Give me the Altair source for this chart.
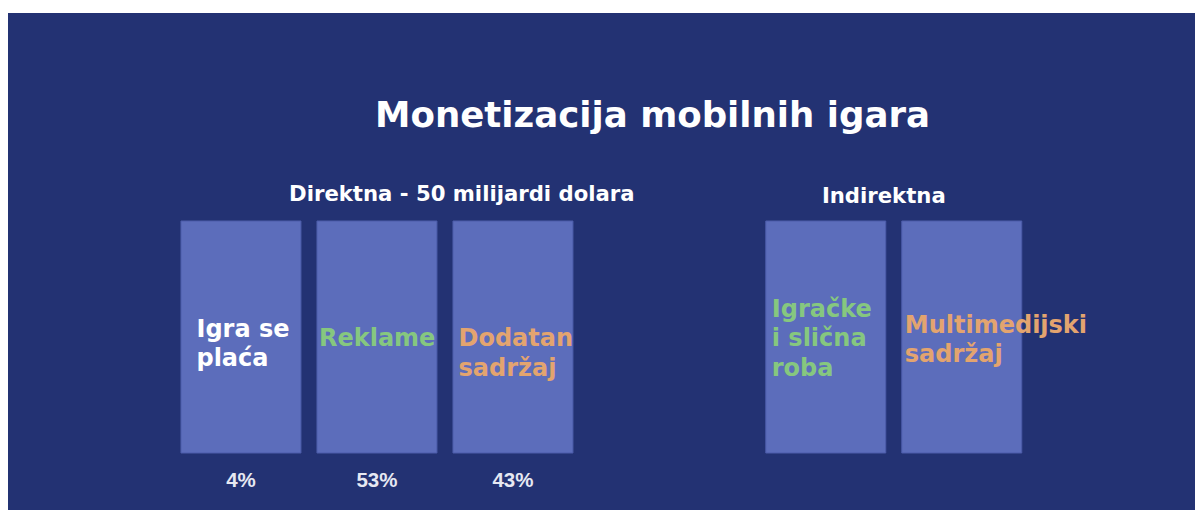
import altair as alt
import pandas as pd

# ---- data ----
categories = ["Igra se plaća", "Reklame", "Dodatan sadržaj",
              "Igračke i slična roba", "Multimedijski sadržaj"]
groups = ["Direktna", "Direktna", "Direktna", "Indirektna", "Indirektna"]
slot_in_group = [0, 1, 2, 0, 1]
label_lines = ["Igra se\nplaća", "Reklame", "Dodatan\nsadržaj",
               "Igračke\ni slična\nroba", "Multimedijski\nsadržaj"]
shares = ["4%", "53%", "43%", "", ""]
label_colors = ["#ffffff", "#86c77f", "#e3a46f", "#86c77f", "#e3a46f"]

title_text = "Monetizacija mobilnih igara"
group_headers = ["Direktna - 50 milijardi dolara", "Indirektna"]

df = pd.DataFrame({
    "category": categories,
    "group": groups,
    "slot": slot_in_group,
    "label": label_lines,
    "share": shares,
    "color": label_colors,
})

# ---- style / layout ----
NAVY = "#233273"
BOX = "#5c6dbb"
BOX_EDGE = "#4c5caa"
STEP_PX = 136.0
W, H = 1187, 497          # plot area (page has 8px margin, 5px extra top pad)
X_MIN = -1.713
X_MAX = X_MIN + W / STEP_PX
HALF = 60.0 / STEP_PX

xs = alt.Scale(domain=[X_MIN, X_MAX], nice=False, zero=False)

base = alt.Chart(df).transform_calculate(
    pos="datum.slot + (datum.group == 'Indirektna' ? 4.3 : 0)"
).transform_calculate(
    left=f"datum.pos - {HALF}", right=f"datum.pos + {HALF}"
)

boxes = base.mark_rect(fill=BOX, stroke=BOX_EDGE, strokeWidth=1).encode(
    x=alt.X("left:Q", scale=xs, axis=None),
    x2="right:Q",
    y=alt.value(208),
    y2=alt.value(440),
)

pct = base.mark_text(font="Liberation Sans", fontWeight="bold", fontSize=20.5,
                     color="#e6e8f2", align="center", baseline="alphabetic").encode(
    x=alt.X("pos:Q", scale=xs, axis=None),
    y=alt.value(473.5),
    text="share:N",
)

# label offsets (px) relative to box left edge and first-line baseline
label_dx = [15.5, 2, 5.5, 6, 3]
label_y = [323.5, 332.5, 333, 303.5, 319.5]

label_layers = []
for i, cat in enumerate(categories):
    label_layers.append(
        base.transform_filter(alt.datum.category == cat).mark_text(
            font="DejaVu Sans", fontWeight="bold", fontSize=24, align="left",
            baseline="alphabetic", lineBreak="\n", lineHeight=29.5,
            dx=label_dx[i], color=label_colors[i],
        ).encode(
            x=alt.X("left:Q", scale=xs, axis=None),
            y=alt.value(label_y[i]),
            text="label:N",
        )
    )

title = alt.Chart(pd.DataFrame({"t": [title_text]})).mark_text(
    font="DejaVu Sans", fontWeight="bold", fontSize=35.6, color="white",
    align="center", baseline="alphabetic",
).encode(x=alt.value(644.5), y=alt.value(113.5), text="t:N")

hdr_df = pd.DataFrame({"h": group_headers, "g": ["Direktna", "Indirektna"]})
hdr1 = alt.Chart(hdr_df).transform_filter(alt.datum.g == "Direktna").mark_text(
    font="DejaVu Sans", fontWeight="bold", fontSize=21.2, color="white",
    align="center", baseline="alphabetic",
).encode(x=alt.value(453.8), y=alt.value(188), text="h:N")
hdr2 = alt.Chart(hdr_df).transform_filter(alt.datum.g == "Indirektna").mark_text(
    font="DejaVu Sans", fontWeight="bold", fontSize=21.2, color="white",
    align="center", baseline="alphabetic",
).encode(x=alt.value(875.8), y=alt.value(190.3), text="h:N")

chart = alt.layer(boxes, pct, *label_layers, title, hdr1, hdr2).properties(
    width=W, height=H + 5,
    autosize=alt.AutoSizeParams(type="fit", contains="padding"),
    padding={"left": 0, "right": 0, "top": 5, "bottom": 0},
    background="white",
).configure_view(fill=NAVY, stroke=None)

chart.save("out.html", embed_options={"renderer": "svg", "actions": False})
